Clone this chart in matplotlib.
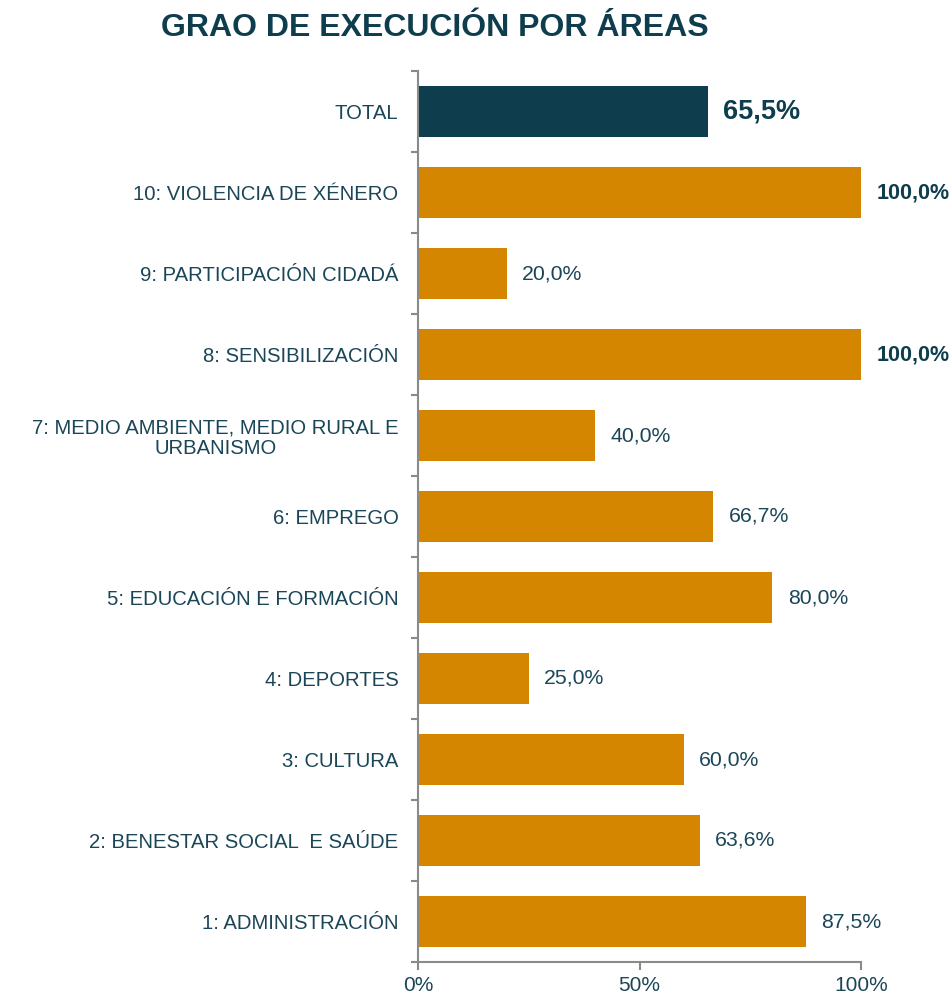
import numpy as np
import matplotlib
matplotlib.use("Agg")
from matplotlib import pyplot as plt
from matplotlib.ticker import FixedLocator

plt.rcParams['font.family'] = ['Liberation Sans', 'DejaVu Sans']

# Data (bottom to top)
categories = ['1: ADMINISTRACIÓN', '2: BENESTAR SOCIAL  E SAÚDE', '3: CULTURA',
              '4: DEPORTES', '5: EDUCACIÓN E FORMACIÓN', '6: EMPREGO',
              '7: MEDIO AMBIENTE, MEDIO RURAL E\nURBANISMO', '8: SENSIBILIZACIÓN',
              '9: PARTICIPACIÓN CIDADÁ', '10: VIOLENCIA DE XÉNERO', 'TOTAL']
values = [87.5, 63.6, 60.0, 25.0, 80.0, 66.7, 40.0, 100.0, 20.0, 100.0, 65.5]
xticks = [0, 50, 100]
xtick_labels = ['0%', '50%', '100%']

orange = '#d48600'
dark = '#0e3d4d'
text_col = '#1b4658'
spine_col = '#8a8a8a'

fig = plt.figure(figsize=(9.52, 9.98), dpi=100)
ax = fig.add_axes([418/952, 1 - 962/998, (861 - 418)/952, (962 - 71)/998])

y = np.arange(len(categories))
colors = [dark if c == 'TOTAL' else orange for c in categories]
ax.barh(y, values, height=0.63, color=colors, zorder=2)

for yi, v, c in zip(y, values, categories):
    lbl = f'{v:.1f}%'.replace('.', ',')
    if c == 'TOTAL':
        ax.annotate(lbl, (v, yi), xytext=(11, 0), textcoords='offset points',
                    va='center', ha='left', fontsize=19.5, fontweight='bold',
                    color=dark, annotation_clip=False)
    elif v >= 100:
        ax.annotate(lbl, (v, yi), xytext=(11, 0), textcoords='offset points',
                    va='center', ha='left', fontsize=15.5, fontweight='bold',
                    color=dark, annotation_clip=False)
    else:
        ax.annotate(lbl, (v, yi), xytext=(11, 0), textcoords='offset points',
                    va='center', ha='left', fontsize=15.3, color=text_col,
                    annotation_clip=False)

ax.set_xlim(0, 100)
ax.set_ylim(-0.5, len(categories) - 0.5)

ax.set_yticks(y)
ax.set_yticklabels(categories, fontsize=14.6, color=text_col,
                   multialignment='center', linespacing=1.1)
ax.tick_params(axis='y', which='major', length=0, pad=14)
ax.yaxis.set_minor_locator(FixedLocator(np.arange(-0.5, len(categories), 1)))
ax.tick_params(axis='y', which='minor', length=5, width=1.5, color=spine_col,
               direction='out')

ax.set_xticks(xticks)
ax.set_xticklabels(xtick_labels, fontsize=15, color=text_col)
ax.tick_params(axis='x', length=6, width=1.5, color=spine_col, pad=4)

for s in ['top', 'right']:
    ax.spines[s].set_visible(False)
for s in ['left', 'bottom']:
    ax.spines[s].set_color(spine_col)
    ax.spines[s].set_linewidth(1.5)

fig.text(435/952, 1 - 28/998, 'GRAO DE EXECUCIÓN POR ÁREAS', ha='center',
         va='center', fontsize=23, fontweight='bold', color=dark)

fig.savefig('out.png', dpi=100)
